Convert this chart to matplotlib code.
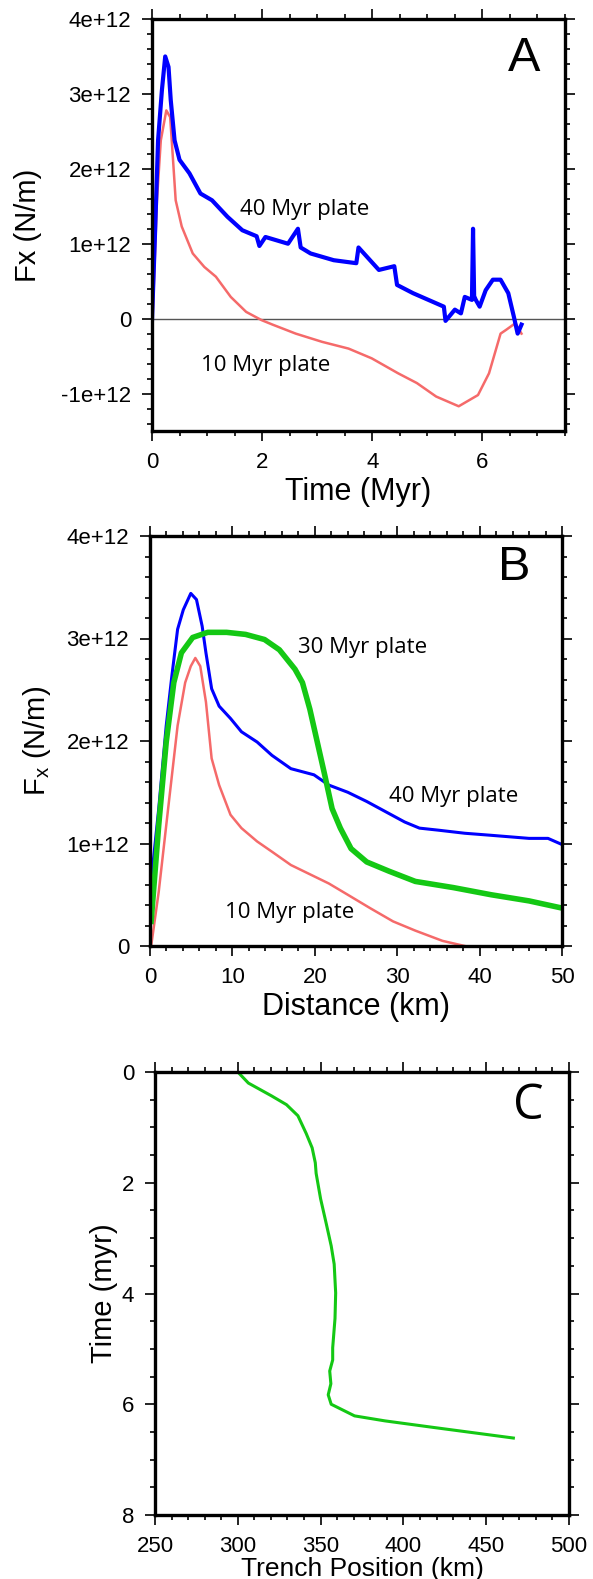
import numpy as np
import matplotlib.pyplot as plt
from matplotlib.ticker import MultipleLocator

#Panel A: force vs time (Myr), force in units of 1e12 N/m
a_blue_t = [0, 0.055, 0.11, 0.18, 0.24, 0.30, 0.34, 0.41, 0.5, 0.68, 0.88, 1.09, 1.37, 1.64, 1.9, 1.95, 2.06,
            2.47, 2.65, 2.7, 2.88, 3.3, 3.71, 3.75, 4.12, 4.4, 4.45, 4.74, 5.02, 5.3, 5.33, 5.5, 5.61, 5.68,
            5.81, 5.83, 5.85, 5.88, 5.95, 6.06, 6.19, 6.33, 6.47, 6.57, 6.64, 6.71]
a_blue_f = [-0.02, 1.14, 2.38, 3.05, 3.5, 3.36, 2.92, 2.38, 2.12, 1.94, 1.67, 1.58, 1.36, 1.18, 1.1, 0.97, 1.09,
            1.0, 1.2, 0.95, 0.87, 0.78, 0.74, 0.95, 0.65, 0.7, 0.45, 0.34, 0.25, 0.16, -0.03, 0.12, 0.07, 0.29,
            0.25, 1.2, 0.3, 0.25, 0.16, 0.38, 0.52, 0.52, 0.34, 0.03, -0.2, -0.08]
a_red_t = [0, 0.09, 0.16, 0.26, 0.33, 0.39, 0.43, 0.54, 0.74, 0.95, 1.16, 1.43, 1.71, 1.99, 2.19, 2.61,
           3.09, 3.57, 3.99, 4.47, 4.81, 5.16, 5.57, 5.92, 6.12, 6.33, 6.43, 6.6, 6.71]
a_red_f = [-0.2, 1.58, 2.38, 2.78, 2.69, 2.03, 1.58, 1.23, 0.87, 0.69, 0.56, 0.29, 0.09, -0.02, -0.08, -0.2,
           -0.31, -0.40, -0.53, -0.73, -0.86, -1.04, -1.17, -1.02, -0.73, -0.2, -0.15, -0.06, -0.2]

#Panel B: force vs distance (km)
b_blue_d = [0.14, 1.06, 1.97, 2.66, 3.35, 4.04, 4.95, 5.64, 6.33, 6.79, 7.48, 8.39, 9.77, 11.1, 13.0, 14.8,
            17.1, 19.9, 21.7, 24.0, 26.3, 28.6, 30.9, 32.7, 35.0, 38.2, 41.4, 46.0, 48.3, 50]
b_blue_f = [0.63, 1.34, 2.15, 2.64, 3.09, 3.28, 3.44, 3.38, 3.12, 2.86, 2.51, 2.34, 2.22, 2.09, 1.99, 1.86,
            1.73, 1.67, 1.57, 1.50, 1.41, 1.31, 1.21, 1.15, 1.13, 1.10, 1.08, 1.05, 1.05, 0.99]
b_green_d = [0.14, 1.06, 1.97, 2.89, 3.81, 5.18, 7.0, 9.3, 11.6, 13.9, 15.7, 17.6, 18.5, 19.4, 20.3, 21.2,
             22.1, 23.1, 24.4, 26.3, 29.0, 32.2, 36.8, 41.4, 46.0, 50]
b_green_f = [0.24, 1.18, 1.99, 2.57, 2.86, 3.01, 3.06, 3.06, 3.04, 2.99, 2.89, 2.70, 2.57, 2.31, 1.99, 1.67,
             1.34, 1.15, 0.95, 0.82, 0.73, 0.63, 0.57, 0.50, 0.44, 0.37]
b_red_d = [0.14, 1.06, 2.2, 3.35, 4.27, 4.95, 5.5, 6.1, 6.79, 7.48, 8.39, 9.77, 11.1, 13.0, 14.8, 17.1,
           19.4, 21.7, 24.0, 26.7, 29.5, 32.2, 35.5, 38.2]
b_red_f = [0, 0.53, 1.34, 2.15, 2.57, 2.73, 2.81, 2.73, 2.38, 1.83, 1.57, 1.28, 1.15, 1.02, 0.92, 0.79,
           0.70, 0.61, 0.50, 0.37, 0.24, 0.15, 0.05, 0]

#Panel C: trench position (km) vs time (myr)
c_pos = [300, 306.4, 320.3, 329.4, 336.3, 341.3, 344.9, 346.8, 347.3, 350, 353.5, 356.4, 358.2, 359.1,
         358.7, 357.3, 357.3, 355.5, 356.2, 354.6, 356.4, 370.5, 388.8, 418.5, 466.4]
c_time = [0, 0.2, 0.43, 0.59, 0.79, 1.11, 1.37, 1.64, 1.83, 2.29, 2.75, 3.14, 3.47, 3.99, 4.45, 4.98,
          5.2, 5.4, 5.63, 5.83, 6.0, 6.21, 6.3, 6.42, 6.61]

yticks_f = [-1, 0, 1, 2, 3, 4]
ytick_labels = ['-1e+12', '0', '1e+12', '2e+12', '3e+12', '4e+12']

blue = '#0000ff'
red = '#f56a6a'
green = '#14c814'

plt.rcParams['font.family'] = ['Liberation Sans', 'DejaVu Sans']
note_font = 'Open Sans'

fig = plt.figure(figsize=(5.93, 15.79), dpi=100)

def style(ax):
    for s in ax.spines.values():
        s.set_linewidth(2.4)
    ax.tick_params(which='both', direction='out', top=True, right=True, labelsize=16, width=1.2)
    ax.tick_params(axis='x', which='major', pad=8)
    ax.tick_params(axis='y', which='major', pad=8)
    ax.tick_params(which='major', length=7)
    ax.tick_params(which='minor', length=3.5)

#A
axA = fig.add_axes([152/593, 1-431/1579, 413/593, 412/1579])
axA.axhline(0, color='#555555', lw=1)
axA.plot(a_red_t, a_red_f, color=red, lw=1.8)
axA.plot(a_blue_t, a_blue_f, color=blue, lw=3)
axA.set_xlim(0, 7.5)
axA.set_ylim(-1.5, 4)
axA.set_xticks([0, 2, 4, 6])
axA.xaxis.set_minor_locator(MultipleLocator(0.5))
axA.set_yticks(yticks_f)
axA.set_yticklabels(ytick_labels)
axA.yaxis.set_minor_locator(MultipleLocator(0.2))
style(axA)
axA.set_xlabel('Time (Myr)', fontsize=22, labelpad=3)
axA.set_ylabel('Fx (N/m)', fontsize=21, labelpad=14)
axA.text(2.77, 1.46, '40 Myr plate', family=note_font, fontsize=16, ha='center', va='center')
axA.text(2.06, -0.62, '10 Myr plate', family=note_font, fontsize=16, ha='center', va='center')
axA.text(6.76, 3.47, 'A', fontsize=35, ha='center', va='center')

#B
axB = fig.add_axes([150/593, 1-946/1579, 412/593, 410/1579])
axB.plot(b_red_d, b_red_f, color=red, lw=1.8)
axB.plot(b_blue_d, b_blue_f, color=blue, lw=2.2)
axB.plot(b_green_d, b_green_f, color=green, lw=4)
axB.set_xlim(0, 50)
axB.set_ylim(0, 4)
axB.set_xticks([0, 10, 20, 30, 40, 50])
axB.xaxis.set_minor_locator(MultipleLocator(2))
axB.set_yticks(yticks_f[1:])
axB.set_yticklabels(ytick_labels[1:])
axB.yaxis.set_minor_locator(MultipleLocator(0.2))
style(axB)
axB.set_xlabel('Distance (km)', fontsize=22, labelpad=3)
axB.set_ylabel('F$_\\mathregular{x}$ (N/m)', fontsize=21, labelpad=10)
axB.text(25.8, 2.91, '30 Myr plate', family=note_font, fontsize=16, ha='center', va='center')
axB.text(36.8, 1.455, '40 Myr plate', family=note_font, fontsize=16, ha='center', va='center')
axB.text(16.9, 0.33, '10 Myr plate', family=note_font, fontsize=16, ha='center', va='center')
axB.text(44.2, 3.69, 'B', fontsize=35, ha='center', va='center')

#C
axC = fig.add_axes([155/593, 1-1515/1579, 414/593, 443/1579])
axC.plot(c_pos, c_time, color=green, lw=2.2)
axC.set_xlim(250, 500)
axC.set_ylim(8, 0)
axC.set_xticks([250, 300, 350, 400, 450, 500])
axC.xaxis.set_minor_locator(MultipleLocator(10))
axC.set_yticks([0, 2, 4, 6, 8])
axC.yaxis.set_minor_locator(MultipleLocator(0.5))
style(axC)
axC.set_xlabel('Trench Position (km)', fontsize=19, labelpad=0)
axC.set_ylabel('Time (myr)', fontsize=21, labelpad=3)
axC.text(475.6, 0.62, 'C', family=note_font, fontsize=35, ha='center', va='center')

plt.savefig('out.png', dpi=100)
